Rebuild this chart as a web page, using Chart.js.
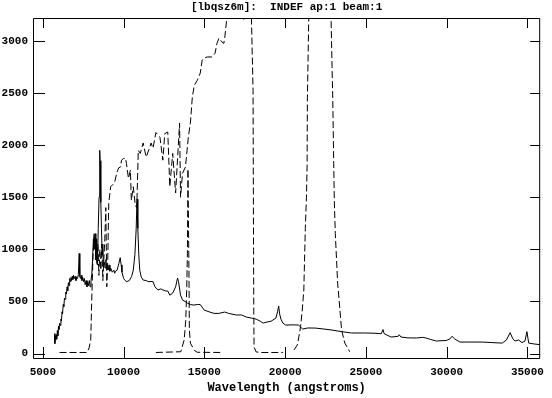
<!DOCTYPE html>
<html lang="en">
<head>
    <meta charset="UTF-8">
    <title>lbqsz6m spectrum</title>
    <script src="https://cdn.jsdelivr.net/npm/chart.js"></script>
    <style>
        body {
            margin: 0;
            background-color: #fff;
        }
        canvas {
            display: block;
        }
    </style>
</head>
<body>
    <canvas id="specChart" width="552" height="398"></canvas>

    <script>
        const plotTitle = '[lbqsz6m]:  INDEF ap:1 beam:1';
        const xTitle = 'Wavelength (angstroms)';
        const xTicks = [5000, 10000, 15000, 20000, 25000, 30000, 35000];
        const yTicks = [0, 500, 1000, 1500, 2000, 2500, 3000];

        // object spectrum (solid)
        const solidWave = [5730, 5745, 5770, 5800, 5830, 5860, 5900, 5930, 5970, 6000, 6040, 6080, 6120, 6150, 6190, 6220, 6260, 6300, 6340, 6380, 6420, 6460, 6500, 6540, 6580, 6620, 6660, 6700, 6740, 6780, 6820, 6860, 6900, 6950, 7000, 7050, 7100, 7150, 7200, 7250, 7290, 7330, 7380, 7420, 7470, 7520, 7570, 7620, 7680, 7730, 7780, 7830, 7880, 7930, 7980, 8030, 8080, 8130, 8180, 8230, 8280, 8330, 8380, 8430, 8480, 8520, 8550, 8590, 8630, 8670, 8710, 8750, 8800, 8850, 8900, 8950, 9000, 9050, 9100, 9150, 9200, 9300, 9400, 9450, 9500, 9600, 9700, 9790, 9850, 9900, 10000, 10100, 10200, 10350, 10500, 10600, 10700, 10780, 10830, 10880, 10940, 11000, 11090, 11210, 11400, 11520, 11700, 11820, 11940, 12125, 12300, 12430, 12600, 12735, 12860, 13040, 13220, 13340, 13400, 13525, 13650, 13800, 13950, 14130, 14350, 14560, 14745, 14990, 15290, 15600, 15900, 16260, 16500, 16990, 17300, 17600, 17910, 18210, 18460, 18640, 18820, 19130, 19430, 19530, 19600, 19660, 19740, 19860, 20040, 20500, 20830, 21080, 21400, 21870, 22400, 22900, 23500, 24120, 24910, 25500, 25950, 26060, 26130, 26560, 27000, 27065, 27170, 27600, 28140, 28500, 28700, 29000, 29360, 29970, 30200, 30330, 30500, 30820, 31500, 32220, 32800, 33440, 33700, 33930, 34100, 34230, 34450, 34660, 34850, 34970, 35080, 35400, 35780];
        const solidFlux = [190, 95, 170, 130, 180, 140, 220, 170, 260, 230, 290, 270, 330, 310, 400, 380, 470, 450, 530, 520, 590, 570, 640, 600, 680, 650, 720, 690, 730, 700, 740, 710, 750, 720, 740, 700, 730, 720, 760, 960, 740, 720, 750, 700, 730, 690, 720, 660, 700, 640, 690, 650, 700, 640, 700, 760, 900, 1100, 1000, 1150, 900, 1100, 850, 1200, 1500, 1950, 1850, 1450, 1200, 950, 1050, 850, 880, 820, 900, 830, 860, 800, 850, 790, 820, 780, 800, 770, 790, 800, 860, 920, 850, 780, 720, 700, 690, 700, 740, 800, 950, 1200, 1480, 1200, 950, 800, 735, 705, 700, 690, 690, 690, 640, 610, 620, 610, 600, 600, 560, 580, 640, 724, 690, 560, 513, 500, 484, 470, 465, 470, 470, 417, 400, 385, 385, 398, 385, 369, 370, 350, 340, 330, 310, 292, 300, 310, 340, 400, 455, 380, 330, 292, 273, 275, 273, 235, 245, 244, 235, 225, 210, 197, 197, 195, 190, 230, 190, 158, 165, 180, 158, 150, 149, 155, 150, 135, 120, 125, 140, 165, 140, 110, 110, 110, 105, 100, 130, 200, 140, 120, 130, 105, 120, 210, 100, 92, 85];

        // broad dashed curve (starts 6000 A, leaves the top near 16400 A)
        const dashWaveA = [6035, 7740, 7862, 7966, 8027, 8106, 8167, 8228, 8289, 8350, 8410, 8471, 8532, 8593, 8654, 8715, 8776, 8837, 8898, 8959, 9020, 9080, 9200, 9325, 9445, 9570, 9690, 9810, 9870, 9990, 10115, 10175, 10300, 10420, 10480, 10600, 10725, 10815, 10910, 11030, 11210, 11395, 11640, 11700, 11820, 12000, 12250, 12430, 12550, 12735, 12860, 13040, 13220, 13465, 13525, 13650, 13830, 14010, 14135, 14255, 14380, 14560, 14745, 14865, 14990, 15170, 15475, 15660, 15780, 15900, 16085, 16205, 16265, 16390, 16690, 17000, 17425, 17600, 17790, 17910, 18015, 18030, 18045, 18060, 18075, 18210, 18460, 19860];
        const dashFluxA = [10, 10, 53, 130, 513, 930, 1150, 1000, 1100, 850, 1050, 750, 1000, 800, 1050, 700, 900, 1100, 1400, 640, 900, 1440, 1600, 1620, 1640, 1730, 1780, 1790, 1855, 1870, 1875, 1825, 1680, 1760, 1470, 1600, 1420, 1400, 1950, 1920, 2020, 1885, 1985, 2020, 1970, 2120, 2075, 1855, 2110, 2125, 1600, 1920, 1540, 2210, 1500, 1730, 1790, 2080, 2210, 2460, 2575, 2620, 2690, 2815, 2835, 2845, 2845, 2880, 2975, 3025, 2990, 2975, 3035, 3215, 3320, 3300, 3200, 3260, 3300, 3250, 2525, 1690, 990, 400, 62, 15, 10, 10];

        // narrow dashed peak near 14000 A
        const dashWaveB = [12000, 13540, 13750, 13850, 13910, 13950, 13985, 14030, 14055, 14070, 14135, 14380, 14560, 16100];
        const dashFluxB = [10, 17, 130, 321, 640, 963, 1770, 1050, 600, 225, 100, 30, 12, 10];

        // dashed band near 22000 A
        const dashWaveC = [20547, 20755, 20852, 20956, 21060, 21157, 21250, 21320, 21360, 21380, 21460, 21565, 22480, 22843, 22905, 22947, 23008, 23045, 23106, 23252, 23289, 23496, 23697, 24001];
        const dashFluxC = [34, 82, 161, 257, 417, 609, 1200, 1500, 1800, 2460, 3200, 3350, 3350, 3220, 2750, 2460, 1825, 1470, 1150, 676, 609, 225, 100, 17];

        const fontFace = '"Liberation Mono", "DejaVu Sans Mono", monospace';

        function pairs(xs, ys) {
            return xs.map((x, i) => ({ x: x, y: ys[i] }));
        }

        function lineSet(xs, ys, dash) {
            return {
                data: pairs(xs, ys),
                showLine: true,
                borderColor: '#000',
                borderWidth: 1,
                borderDash: dash,
                pointRadius: 0,
                tension: 0
            };
        }

        // frame, inward tick marks and the title
        const framePlugin = {
            id: 'frame',
            afterDraw(chart) {
                const { ctx, chartArea: a, scales } = chart;
                ctx.save();
                ctx.strokeStyle = '#000';
                ctx.lineWidth = 1;
                ctx.setLineDash([]);
                ctx.beginPath();
                ctx.rect(a.left + 0.5, a.top + 0.5, a.right - a.left - 1, a.bottom - a.top);
                xTicks.forEach(v => {
                    const px = Math.round(scales.x.getPixelForValue(v)) + 0.5;
                    ctx.moveTo(px, a.bottom);
                    ctx.lineTo(px, a.bottom - 11);
                    ctx.moveTo(px, a.top);
                    ctx.lineTo(px, a.top + 10);
                });
                yTicks.forEach(v => {
                    const py = Math.round(scales.y.getPixelForValue(v)) + 0.5;
                    ctx.moveTo(a.left, py);
                    ctx.lineTo(a.left + 12, py);
                    ctx.moveTo(a.right, py);
                    ctx.lineTo(a.right - 10, py);
                });
                ctx.stroke();

                ctx.fillStyle = '#000';
                ctx.font = 'bold 11px ' + fontFace;
                ctx.textAlign = 'center';
                ctx.textBaseline = 'middle';
                ctx.fillText(plotTitle, (a.left + a.right) / 2, 7);
                ctx.restore();
            }
        };

        new Chart(document.getElementById('specChart'), {
            type: 'scatter',
            data: {
                datasets: [
                    lineSet(solidWave, solidFlux, []),
                    lineSet(dashWaveA, dashFluxA, [7, 3]),
                    lineSet(dashWaveB, dashFluxB, [7, 3]),
                    lineSet(dashWaveC, dashFluxC, [7, 3])
                ]
            },
            options: {
                responsive: false,
                animation: false,
                layout: {
                    padding: { top: 18, right: 3, left: 0, bottom: 0 }
                },
                plugins: {
                    legend: { display: false },
                    tooltip: { enabled: false },
                    title: { display: false }
                },
                scales: {
                    x: {
                        type: 'linear',
                        min: 4391,
                        max: 35790,
                        grid: { display: false, drawTicks: false },
                        border: { display: false },
                        afterFit: s => { s.height = 40; },
                        afterBuildTicks: s => { s.ticks = xTicks.map(v => ({ value: v })); },
                        ticks: {
                            color: '#000',
                            padding: 8,
                            maxRotation: 0,
                            autoSkip: false,
                            font: { family: fontFace, size: 11, weight: 'bold' },
                            callback: v => String(v)
                        },
                        title: {
                            display: true,
                            text: xTitle,
                            color: '#000',
                            padding: { top: 0, bottom: 3 },
                            font: { family: fontFace, size: 12, weight: 'bold' }
                        }
                    },
                    y: {
                        type: 'linear',
                        min: -43,
                        max: 3219,
                        grid: { display: false, drawTicks: false },
                        border: { display: false },
                        afterFit: s => { s.width = 33; },
                        afterBuildTicks: s => { s.ticks = yTicks.map(v => ({ value: v })); },
                        ticks: {
                            color: '#000',
                            padding: 5,
                            autoSkip: false,
                            font: { family: fontFace, size: 11, weight: 'bold' },
                            callback: v => String(v)
                        }
                    }
                }
            },
            plugins: [framePlugin]
        });
    </script>
</body>
</html>
